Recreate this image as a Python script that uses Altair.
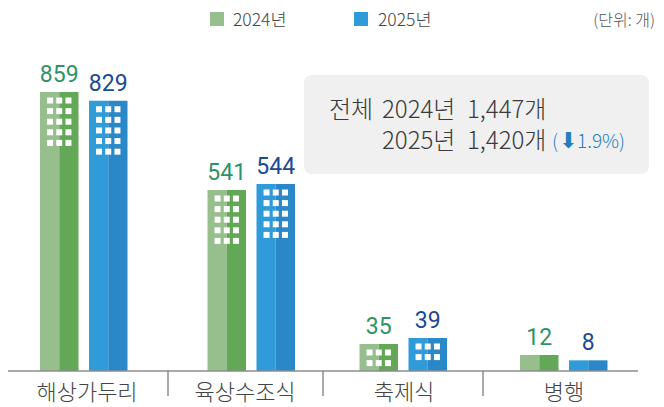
import altair as alt
import numpy as np
import pandas as pd

categories = ["해상가두리", "육상수조식", "축제식", "병행"]
values_2024 = [859, 541, 35, 12]
values_2025 = [829, 544, 39, 8]
window_rows_2024 = [5, 5, 2, 0]
window_rows_2025 = [5, 5, 2, 0]

# layout (page pixels)
left_2024 = [40, 207.5, 359.5, 520]
bar_w = 38.5
gap = 49
separators = [168, 323, 483]
label_centres = [87, 245, 404, 564]
C = dict(g1="#96BF8D", g2="#62A857", b1="#2F9BD9", b2="#2A88C8")

x_scale = alt.Scale(domain=[8, 656], range=[0, 648], nice=False, zero=False)
y_domain = [0, 12, 35, 39, 541, 544, 859]
y_range = [363, 347, 336, 330, 182, 176, 84]
y_scale = alt.Scale(domain=y_domain, range=y_range, nice=False, zero=False)

rows, win, labs = [], [], []
for i, c in enumerate(categories):
    for series, vals, wr, l, (c1, c2), col in (
        ("2024", values_2024, window_rows_2024, left_2024[i], (C["g1"], C["g2"]), "#2E9269"),
        ("2025", values_2025, window_rows_2025, left_2024[i] + gap, (C["b1"], C["b2"]), "#1A4A92"),
    ):
        v = vals[i]
        rows.append(dict(x=l, x2=l + bar_w / 2, v=v, c=c1))
        rows.append(dict(x=l + bar_w / 2, x2=l + bar_w, v=v, c=c2))
        labs.append(dict(x=l + bar_w / 2, v=v, t=str(v), c=col))
        top = float(np.interp(v, y_domain, y_range))
        for r in range(wr[i]):
            for k in (-1, 0, 1):
                win.append(dict(x=l + bar_w / 2 + k * 9.2, py=top + 8.5 + r * 10.6))

bars = alt.Chart(pd.DataFrame(rows)).mark_bar(stroke=None).encode(
    x=alt.X("x:Q", scale=x_scale, axis=None),
    x2="x2:Q",
    y=alt.Y("v:Q", scale=y_scale, axis=None),
    y2=alt.value(363),
    color=alt.Color("c:N", scale=None),
)
windows = alt.Chart(pd.DataFrame(win)).mark_square(size=36, fill="white", strokeWidth=0, opacity=1).encode(
    x=alt.X("x:Q", scale=x_scale, axis=None),
    y=alt.Y("py:Q", scale=None, axis=None),
)
labels = alt.Chart(pd.DataFrame(labs)).mark_text(
    font="Roboto", fontSize=23, dy=-17, baseline="middle", fontWeight=400
).encode(
    x=alt.X("x:Q", scale=x_scale, axis=None),
    y=alt.Y("v:Q", scale=y_scale, axis=None),
    text="t:N",
    color=alt.Color("c:N", scale=None),
)

axis_line = alt.Chart(pd.DataFrame({"a": [0]})).mark_rule(color="#8c8c8c", strokeWidth=1.5).encode(
    x=alt.value(-2), x2=alt.value(630), y=alt.value(363)
)
seps = alt.Chart(pd.DataFrame({"x": separators})).mark_rule(color="#8c8c8c", strokeWidth=1.5).encode(
    x=alt.X("x:Q", scale=x_scale, axis=None), y=alt.value(363), y2=alt.value(388)
)
cat_text = alt.Chart(pd.DataFrame({"x": label_centres, "t": categories})).mark_text(
    font="Noto Sans CJK KR", fontSize=22, fontWeight=300, color="#444444", baseline="middle"
).encode(
    x=alt.X("x:Q", scale=x_scale, axis=None), y=alt.value(385), text="t:N"
)

panel = alt.Chart(pd.DataFrame({"a": [0]})).mark_rect(color="#F0F0F0", cornerRadius=8).encode(
    x=alt.value(296), x2=alt.value(641), y=alt.value(67), y2=alt.value(166)
)


def note(t, x, y, size=24, color="#3a3a3a", align="left", font="Noto Sans CJK KR", weight=300):
    return alt.Chart(pd.DataFrame({"t": [t]})).mark_text(
        font=font, fontSize=size, fontWeight=weight, color=color, align=align, baseline="middle"
    ).encode(x=alt.value(x), y=alt.value(y), text="t:N")


def swatch(x, color):
    return alt.Chart(pd.DataFrame({"a": [0]})).mark_rect(color=color).encode(
        x=alt.value(x), x2=alt.value(x + 14), y=alt.value(4), y2=alt.value(18)
    )


texts = [
    swatch(202, "#96BF8D"), note("2024년", 225, 13, 17.5, "#444444"),
    swatch(346, "#2F9BD9"), note("2025년", 370, 13, 17.5, "#444444"),
    note("(단위: 개)", 647, 13, 16, "#555555", "right"),
    note("전체", 321, 103),
    note("2024년", 374, 103),
    note("1,447개", 459, 103),
    note("2025년", 374, 134),
    note("1,420개", 459, 134),
    note("(", 544, 134, 19, "#1F7FBF"),
    note("⬇", 551, 133, 22, "#1F7FBF", font="DejaVu Sans", weight=400),
    note("1.9%)", 569, 134, 19, "#1F7FBF"),
]

chart = alt.layer(panel, bars, windows, labels, axis_line, seps, cat_text, *texts).properties(
    width=648, height=399, padding=0, autosize=alt.AutoSizeParams(type="none")
).configure_view(stroke=None)

chart.save("out.html", embed_options={"renderer": "svg", "actions": False})
